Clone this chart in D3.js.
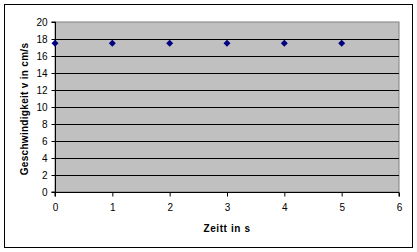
<!DOCTYPE html>
<html lang="de">
<head>
<meta charset="utf-8">
<style>
  body { margin: 0; background: white; }
  svg { font-family: Arial, 'Liberation Sans', sans-serif; }
  .tick text { font-size: 10px; fill: black; }
  .axis-title { font-size: 10px; font-weight: bold; }
</style>
</head>
<body>
<svg width="417" height="252"></svg>
<script src="https://d3js.org/d3.v7.min.js"></script>
<script>
  // Messwerte
  const zeit = [0, 1, 2, 3, 4, 5]
  const geschwindigkeit = [17.5, 17.5, 17.5, 17.5, 17.5, 17.5]
  const xTicks = [0, 1, 2, 3, 4, 5, 6]
  const yTicks = [0, 2, 4, 6, 8, 10, 12, 14, 16, 18, 20]

  const margin = { top: 22, right: 18, bottom: 60, left: 55 }
  const width = 417, height = 252

  const svg = d3.select("svg")

  // outer frame
  svg.append("rect")
    .attr("x", 4.5).attr("y", 4.5)
    .attr("width", 408).attr("height", 243)
    .attr("fill", "white").attr("stroke", "black")

  const x = d3.scaleLinear().domain([0, 6]).range([margin.left, width - margin.right])
  const y = d3.scaleLinear().domain([0, 20]).range([height - margin.bottom, margin.top])

  // plot area
  svg.append("rect")
    .attr("x", x(0)).attr("y", y(20))
    .attr("width", x(6) - x(0)).attr("height", y(0) - y(20))
    .attr("fill", "#c0c0c0").attr("stroke", "#808080")

  // gridlines
  svg.append("g")
    .selectAll("line")
    .data(yTicks.filter(d => d > 0 && d < 20))
    .join("line")
    .attr("x1", x(0)).attr("x2", x(6))
    .attr("y1", d => Math.round(y(d)) + 0.5).attr("y2", d => Math.round(y(d)) + 0.5)
    .attr("stroke", "black")

  const xAxis = d3.axisBottom(x).tickValues(xTicks).tickSize(4).tickPadding(7).tickFormat(d3.format("d"))
  const yAxis = d3.axisLeft(y).tickValues(yTicks).tickSize(4).tickPadding(4).tickFormat(d3.format("d"))

  svg.append("g")
    .attr("transform", "translate(0," + (Math.round(y(0)) + 0.5) + ")")
    .call(xAxis)
    .call(g => g.selectAll("path, line").attr("stroke", "black"))
    .call(g => g.select(".domain").attr("d", "M" + x(0) + ",4V0H" + x(6) + "V4"))

  svg.append("g")
    .attr("transform", "translate(" + (Math.round(x(0)) + 0.5) + ",0)")
    .call(yAxis)
    .call(g => g.selectAll("path, line").attr("stroke", "black"))
    .call(g => g.select(".domain").attr("d", "M-4," + y(0) + "H0V" + y(20) + "H-4"))

  // markers
  svg.append("g")
    .selectAll("path")
    .data(zeit.map((t, i) => [t, geschwindigkeit[i]]))
    .join("path")
    .attr("transform", d => "translate(" + x(d[0]) + "," + y(d[1]) + ")")
    .attr("d", "M0,-3.5L3.5,0L0,3.5L-3.5,0Z")
    .attr("fill", "#000080")

  svg.append("text")
    .attr("class", "axis-title")
    .attr("x", (x(0) + x(6)) / 2).attr("y", 232)
    .attr("text-anchor", "middle")
    .style("letter-spacing", "0.6px")
    .text("Zeitt in s")

  svg.append("text")
    .attr("class", "axis-title")
    .attr("transform", "translate(28," + ((y(0) + y(20)) / 2 + 2) + ") rotate(-90)")
    .attr("text-anchor", "middle")
    .style("letter-spacing", "0.3px")
    .text("Geschwindigkeit v in cm/s")
</script>
</body>
</html>
